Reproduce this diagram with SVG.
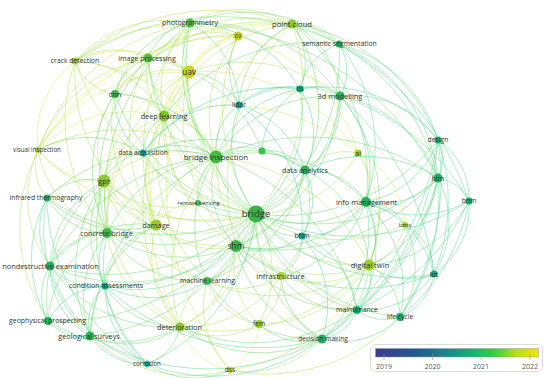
<svg xmlns="http://www.w3.org/2000/svg" width="550" height="378" viewBox="0 0 550 378">
<defs>
<linearGradient id="yr" x1="0" y1="0" x2="1" y2="0">
<stop offset="0" stop-color="#3b3b8e"/>
<stop offset="0.25" stop-color="#22598c"/>
<stop offset="0.45" stop-color="#1a8a8a"/>
<stop offset="0.62" stop-color="#12bb6a"/>
<stop offset="0.72" stop-color="#2fd040"/>
<stop offset="0.86" stop-color="#b5dc1a"/>
<stop offset="1" stop-color="#f5e500"/>
</linearGradient>
</defs>
<style>
.e path{fill:none;stroke-width:0.9;stroke-opacity:0.5}
.ey path{stroke:#d4e83e}
.eyg path{stroke:#aee04a}
.eg path{stroke:#62d862}
.egt path{stroke:#48d48c}
.et path{stroke:#3ccfaa}
text{font-family:"Open Sans","DejaVu Sans",sans-serif;fill:#333;text-anchor:middle}
.lg text{fill:#555;font-size:7px}
</style>
<rect width="550" height="378" fill="#fff"/>
<g id="connectors" class="e">
<g class="ey">
<path d="M189 72A60 60 0 0 1 238 36"/>
<path d="M75 61A115 115 0 0 1 189 72"/>
<path d="M164 116A50 50 0 0 1 189 72"/>
<path d="M189 72A115 115 0 0 1 292 24"/>
<path d="M156 225A155 155 0 0 1 189 72"/>
<path d="M180 327A255 255 0 0 1 189 72"/>
<path d="M189 72A185 185 0 0 1 358 153"/>
<path d="M38 150A170 170 0 0 1 189 72"/>
<path d="M104 181A140 140 0 0 1 189 72"/>
<path d="M164 116A110 110 0 0 1 238 36"/>
<path d="M75 61A165 165 0 0 1 238 36"/>
<path d="M38 150A95 95 0 0 1 75 61"/>
<path d="M104 181A75 75 0 0 1 38 150"/>
<path d="M230 370A65 65 0 0 1 180 327"/>
<path d="M358 153A115 115 0 0 1 369 265"/>
<path d="M358 153A85 85 0 0 1 405 225"/>
<path d="M164 116A200 200 0 0 1 358 153"/>
<path d="M238 36A170 170 0 0 1 358 153"/>
<path d="M259 324A55 55 0 0 1 230 370"/>
<path d="M230 370A300 300 0 0 1 189 72"/>
<path d="M369 265A175 175 0 0 1 230 370"/>
<path d="M38 150A230 230 0 0 1 238 36"/>
<path d="M38 150A130 130 0 0 1 164 116"/>
<path d="M38 150A285 285 0 0 1 292 24"/>
</g>
<g class="eyg">
<path d="M256 214A160 160 0 0 1 189 72"/>
<path d="M292 24A190 190 0 0 1 256 214"/>
<path d="M256 214A135 135 0 0 1 164 116"/>
<path d="M256 214A230 230 0 0 1 38 150"/>
<path d="M256 214A155 155 0 0 1 104 181"/>
<path d="M256 214A100 100 0 0 1 156 225"/>
<path d="M369 265A125 125 0 0 1 256 214"/>
<path d="M281 276A65 65 0 0 1 256 214"/>
<path d="M256 214A135 135 0 0 1 180 327"/>
<path d="M256 214A110 110 0 0 1 259 324"/>
<path d="M256 214A180 180 0 0 1 238 36"/>
<path d="M256 214A235 235 0 0 1 75 61"/>
<path d="M358 153A120 120 0 0 1 256 214"/>
<path d="M405 225A150 150 0 0 1 256 214"/>
<path d="M216 157A90 90 0 0 1 189 72"/>
<path d="M216 157A125 125 0 0 1 238 36"/>
<path d="M216 157A155 155 0 0 1 292 24"/>
<path d="M164 116A65 65 0 0 1 216 157"/>
<path d="M104 181A115 115 0 0 1 216 157"/>
<path d="M156 225A90 90 0 0 1 216 157"/>
<path d="M216 157A185 185 0 0 1 369 265"/>
<path d="M38 150A180 180 0 0 1 216 157"/>
<path d="M75 61A170 170 0 0 1 216 157"/>
<path d="M180 327A175 175 0 0 1 216 157"/>
<path d="M281 276A135 135 0 0 1 216 157"/>
<path d="M236 246A180 180 0 0 1 189 72"/>
<path d="M236 246A150 150 0 0 1 164 116"/>
<path d="M236 246A85 85 0 0 1 156 225"/>
<path d="M369 265A135 135 0 0 1 236 246"/>
<path d="M281 276A55 55 0 0 1 236 246"/>
<path d="M236 246A145 145 0 0 1 104 181"/>
<path d="M259 324A80 80 0 0 1 236 246"/>
<path d="M236 246A100 100 0 0 1 180 327"/>
<path d="M236 246A230 230 0 0 1 292 24"/>
<path d="M189 72A50 50 0 0 1 190 23"/>
<path d="M148 58A45 45 0 0 1 189 72"/>
<path d="M115 94A75 75 0 0 1 189 72"/>
<path d="M107 233A180 180 0 0 1 189 72"/>
<path d="M189 72A155 155 0 0 1 340 96"/>
<path d="M190 23A100 100 0 0 1 292 24"/>
<path d="M164 116A95 95 0 0 1 190 23"/>
<path d="M75 61A120 120 0 0 1 190 23"/>
<path d="M156 225A205 205 0 0 1 190 23"/>
<path d="M164 116A160 160 0 0 1 292 24"/>
<path d="M148 58A150 150 0 0 1 292 24"/>
<path d="M115 94A190 190 0 0 1 292 24"/>
<path d="M115 94A55 55 0 0 1 164 116"/>
<path d="M164 116A60 60 0 0 1 148 58"/>
<path d="M75 61A105 105 0 0 1 164 116"/>
<path d="M156 225A110 110 0 0 1 164 116"/>
<path d="M107 233A130 130 0 0 1 164 116"/>
<path d="M207 281A170 170 0 0 1 164 116"/>
<path d="M104 181A90 90 0 0 1 164 116"/>
<path d="M180 327A210 210 0 0 1 164 116"/>
<path d="M75 61A75 75 0 0 1 148 58"/>
<path d="M148 58A95 95 0 0 1 238 36"/>
<path d="M38 150A145 145 0 0 1 148 58"/>
<path d="M156 225A165 165 0 0 1 148 58"/>
<path d="M115 94A50 50 0 0 1 75 61"/>
<path d="M107 233A175 175 0 0 1 75 61"/>
<path d="M156 225A185 185 0 0 1 75 61"/>
<path d="M156 225A135 135 0 0 1 115 94"/>
<path d="M104 181A90 90 0 0 1 115 94"/>
<path d="M115 94A135 135 0 0 1 238 36"/>
<path d="M107 233A50 50 0 0 1 104 181"/>
<path d="M156 225A70 70 0 0 1 104 181"/>
<path d="M207 281A145 145 0 0 1 104 181"/>
<path d="M180 327A165 165 0 0 1 104 181"/>
<path d="M198 203A95 95 0 0 1 104 181"/>
<path d="M47 198A50 50 0 0 1 38 150"/>
<path d="M50 266A115 115 0 0 1 38 150"/>
<path d="M156 225A50 50 0 0 1 107 233"/>
<path d="M180 327A120 120 0 0 1 107 233"/>
<path d="M107 233A110 110 0 0 1 38 150"/>
<path d="M180 327A105 105 0 0 1 156 225"/>
<path d="M207 281A75 75 0 0 1 156 225"/>
<path d="M156 225A50 50 0 0 1 198 203"/>
<path d="M180 327A55 55 0 0 1 207 281"/>
<path d="M259 324A80 80 0 0 1 180 327"/>
<path d="M369 265A200 200 0 0 1 180 327"/>
<path d="M281 276A115 115 0 0 1 180 327"/>
<path d="M281 276A75 75 0 0 1 207 281"/>
<path d="M369 265A160 160 0 0 1 207 281"/>
<path d="M259 324A65 65 0 0 1 207 281"/>
<path d="M369 265A90 90 0 0 1 281 276"/>
<path d="M405 225A55 55 0 0 1 369 265"/>
<path d="M369 265A125 125 0 0 1 259 324"/>
<path d="M358 153A50 50 0 0 1 366 202"/>
<path d="M305 170A55 55 0 0 1 358 153"/>
<path d="M281 276A55 55 0 0 1 259 324"/>
<path d="M230 370A90 90 0 0 1 207 281"/>
<path d="M198 203A95 95 0 0 1 164 116"/>
<path d="M38 150A200 200 0 0 1 190 23"/>
<path d="M75 61A220 220 0 0 1 292 24"/>
<path d="M48 321A170 170 0 0 1 38 150"/>
<path d="M230 370A145 145 0 0 1 90 336"/>
<path d="M400 317A180 180 0 0 1 230 370"/>
<path d="M322 339A100 100 0 0 1 230 370"/>
</g>
<g class="eg">
<path d="M256 214A70 70 0 0 1 216 157"/>
<path d="M256 214A40 40 0 0 1 236 246"/>
<path d="M256 214A200 200 0 0 1 190 23"/>
<path d="M256 214A190 190 0 0 1 148 58"/>
<path d="M256 214A185 185 0 0 1 115 94"/>
<path d="M340 96A145 145 0 0 1 256 214"/>
<path d="M438 140A200 200 0 0 1 256 214"/>
<path d="M305 170A65 65 0 0 1 256 214"/>
<path d="M438 178A185 185 0 0 1 256 214"/>
<path d="M256 214A210 210 0 0 1 47 198"/>
<path d="M366 202A110 110 0 0 1 256 214"/>
<path d="M256 214A150 150 0 0 1 107 233"/>
<path d="M256 214A210 210 0 0 1 50 266"/>
<path d="M256 214A85 85 0 0 1 207 281"/>
<path d="M357 310A140 140 0 0 1 256 214"/>
<path d="M400 317A175 175 0 0 1 256 214"/>
<path d="M256 214A235 235 0 0 1 48 321"/>
<path d="M256 214A205 205 0 0 1 90 336"/>
<path d="M322 339A140 140 0 0 1 256 214"/>
<path d="M339 44A190 190 0 0 1 256 214"/>
<path d="M256 214A60 60 0 0 1 198 203"/>
<path d="M216 157A135 135 0 0 1 190 23"/>
<path d="M216 157A120 120 0 0 1 148 58"/>
<path d="M115 94A120 120 0 0 1 216 157"/>
<path d="M216 157A140 140 0 0 1 340 96"/>
<path d="M216 157A90 90 0 0 1 305 170"/>
<path d="M47 198A175 175 0 0 1 216 157"/>
<path d="M107 233A135 135 0 0 1 216 157"/>
<path d="M50 266A200 200 0 0 1 216 157"/>
<path d="M236 246A90 90 0 0 1 216 157"/>
<path d="M216 157A155 155 0 0 1 366 202"/>
<path d="M216 157A225 225 0 0 1 438 178"/>
<path d="M207 281A125 125 0 0 1 216 157"/>
<path d="M216 157A210 210 0 0 1 357 310"/>
<path d="M90 336A220 220 0 0 1 216 157"/>
<path d="M366 202A135 135 0 0 1 236 246"/>
<path d="M236 246A45 45 0 0 1 207 281"/>
<path d="M305 170A105 105 0 0 1 236 246"/>
<path d="M236 246A130 130 0 0 1 107 233"/>
<path d="M236 246A185 185 0 0 1 50 266"/>
<path d="M322 339A125 125 0 0 1 236 246"/>
<path d="M357 310A135 135 0 0 1 236 246"/>
<path d="M438 178A215 215 0 0 1 236 246"/>
<path d="M340 96A180 180 0 0 1 236 246"/>
<path d="M148 58A55 55 0 0 1 190 23"/>
<path d="M190 23A165 165 0 0 1 340 96"/>
<path d="M115 94A105 105 0 0 1 190 23"/>
<path d="M190 23A150 150 0 0 1 339 44"/>
<path d="M107 233A225 225 0 0 1 190 23"/>
<path d="M190 23A290 290 0 0 1 438 178"/>
<path d="M292 24A50 50 0 0 1 339 44"/>
<path d="M292 24A65 65 0 0 1 300 89"/>
<path d="M292 24A85 85 0 0 1 340 96"/>
<path d="M239 105A95 95 0 0 1 292 24"/>
<path d="M292 24A210 210 0 0 1 438 178"/>
<path d="M292 24A185 185 0 0 1 438 140"/>
<path d="M292 24A145 145 0 0 1 305 170"/>
<path d="M164 116A190 190 0 0 1 339 44"/>
<path d="M143 153A45 45 0 0 1 164 116"/>
<path d="M115 94A50 50 0 0 1 148 58"/>
<path d="M107 233A180 180 0 0 1 148 58"/>
<path d="M107 233A140 140 0 0 1 115 94"/>
<path d="M47 198A60 60 0 0 1 104 181"/>
<path d="M50 266A100 100 0 0 1 104 181"/>
<path d="M48 321A150 150 0 0 1 104 181"/>
<path d="M90 336A155 155 0 0 1 104 181"/>
<path d="M105 286A105 105 0 0 1 104 181"/>
<path d="M104 181A50 50 0 0 1 143 153"/>
<path d="M147 364A190 190 0 0 1 104 181"/>
<path d="M107 233A70 70 0 0 1 47 198"/>
<path d="M156 225A110 110 0 0 1 47 198"/>
<path d="M50 266A65 65 0 0 1 107 233"/>
<path d="M50 266A115 115 0 0 1 156 225"/>
<path d="M180 327A145 145 0 0 1 50 266"/>
<path d="M90 336A105 105 0 0 1 107 233"/>
<path d="M48 321A105 105 0 0 1 107 233"/>
<path d="M207 281A110 110 0 0 1 107 233"/>
<path d="M105 286A80 80 0 0 1 156 225"/>
<path d="M90 336A130 130 0 0 1 156 225"/>
<path d="M180 327A90 90 0 0 1 90 336"/>
<path d="M180 327A85 85 0 0 1 105 286"/>
<path d="M180 327A50 50 0 0 1 147 364"/>
<path d="M230 370A85 85 0 0 1 147 364"/>
<path d="M322 339A140 140 0 0 1 180 327"/>
<path d="M357 310A180 180 0 0 1 180 327"/>
<path d="M305 170A150 150 0 0 1 207 281"/>
<path d="M322 339A130 130 0 0 1 207 281"/>
<path d="M366 202A65 65 0 0 1 369 265"/>
<path d="M438 178A110 110 0 0 1 369 265"/>
<path d="M434 274A65 65 0 0 1 369 265"/>
<path d="M369 265A45 45 0 0 1 357 310"/>
<path d="M369 265A60 60 0 0 1 400 317"/>
<path d="M369 265A75 75 0 0 1 302 236"/>
<path d="M369 265A90 90 0 0 1 322 339"/>
<path d="M305 170A115 115 0 0 1 369 265"/>
<path d="M469 201A120 120 0 0 1 369 265"/>
<path d="M340 96A170 170 0 0 1 369 265"/>
<path d="M366 202A115 115 0 0 1 281 276"/>
<path d="M366 202A45 45 0 0 1 405 225"/>
<path d="M322 339A75 75 0 0 1 281 276"/>
<path d="M305 170A110 110 0 0 1 281 276"/>
<path d="M262 151A45 45 0 0 1 305 170"/>
<path d="M189 72A60 60 0 0 1 239 105"/>
<path d="M239 105A70 70 0 0 1 238 36"/>
<path d="M38 150A105 105 0 0 1 143 153"/>
<path d="M405 225A55 55 0 0 1 434 274"/>
<path d="M405 225A90 90 0 0 1 400 317"/>
<path d="M302 236A45 45 0 0 1 281 276"/>
<path d="M357 310A85 85 0 0 1 281 276"/>
<path d="M322 339A65 65 0 0 1 259 324"/>
<path d="M198 203A50 50 0 0 1 216 157"/>
<path d="M216 157A45 45 0 0 1 262 151"/>
<path d="M148 58A145 145 0 0 1 262 151"/>
<path d="M75 61A265 265 0 0 1 339 44"/>
<path d="M292 24A195 195 0 0 1 366 202"/>
<path d="M180 327A130 130 0 0 1 48 321"/>
</g>
<g class="egt">
<path d="M300 89A130 130 0 0 1 256 214"/>
<path d="M256 214A130 130 0 0 1 143 153"/>
<path d="M469 201A215 215 0 0 1 256 214"/>
<path d="M302 236A50 50 0 0 1 256 214"/>
<path d="M434 274A190 190 0 0 1 256 214"/>
<path d="M256 214A170 170 0 0 1 105 286"/>
<path d="M256 214A185 185 0 0 1 147 364"/>
<path d="M256 214A110 110 0 0 1 239 105"/>
<path d="M216 157A55 55 0 0 1 239 105"/>
<path d="M216 157A110 110 0 0 1 300 89"/>
<path d="M143 153A75 75 0 0 1 216 157"/>
<path d="M302 236A65 65 0 0 1 236 246"/>
<path d="M434 274A200 200 0 0 1 236 246"/>
<path d="M236 246A135 135 0 0 1 105 286"/>
<path d="M190 23A130 130 0 0 1 300 89"/>
<path d="M190 23A95 95 0 0 1 239 105"/>
<path d="M339 44A50 50 0 0 1 340 96"/>
<path d="M339 44A165 165 0 0 1 438 178"/>
<path d="M300 89A60 60 0 0 1 339 44"/>
<path d="M339 44A140 140 0 0 1 438 140"/>
<path d="M340 96A130 130 0 0 1 438 178"/>
<path d="M340 96A105 105 0 0 1 438 140"/>
<path d="M300 89A40 40 0 0 1 340 96"/>
<path d="M340 96A80 80 0 0 1 305 170"/>
<path d="M340 96A110 110 0 0 1 366 202"/>
<path d="M239 105A100 100 0 0 1 340 96"/>
<path d="M340 96A230 230 0 0 1 469 201"/>
<path d="M50 266A70 70 0 0 1 47 198"/>
<path d="M48 321A125 125 0 0 1 47 198"/>
<path d="M48 321A55 55 0 0 1 50 266"/>
<path d="M90 336A80 80 0 0 1 50 266"/>
<path d="M105 286A60 60 0 0 1 50 266"/>
<path d="M147 364A140 140 0 0 1 50 266"/>
<path d="M105 286A55 55 0 0 1 107 233"/>
<path d="M147 364A135 135 0 0 1 107 233"/>
<path d="M90 336A45 45 0 0 1 48 321"/>
<path d="M90 336A50 50 0 0 1 105 286"/>
<path d="M147 364A65 65 0 0 1 90 336"/>
<path d="M48 321A65 65 0 0 1 105 286"/>
<path d="M322 339A225 225 0 0 1 105 286"/>
<path d="M207 281A100 100 0 0 1 105 286"/>
<path d="M438 178A75 75 0 0 1 366 202"/>
<path d="M469 201A105 105 0 0 1 366 202"/>
<path d="M438 140A95 95 0 0 1 366 202"/>
<path d="M305 170A70 70 0 0 1 366 202"/>
<path d="M366 202A70 70 0 0 1 302 236"/>
<path d="M366 202A110 110 0 0 1 357 310"/>
<path d="M366 202A120 120 0 0 1 400 317"/>
<path d="M366 202A100 100 0 0 1 434 274"/>
<path d="M366 202A145 145 0 0 1 322 339"/>
<path d="M438 178A40 40 0 0 1 469 201"/>
<path d="M438 140A40 40 0 0 1 438 178"/>
<path d="M438 178A95 95 0 0 1 434 274"/>
<path d="M438 178A200 200 0 0 1 400 317"/>
<path d="M438 178A220 220 0 0 1 357 310"/>
<path d="M305 170A135 135 0 0 1 438 178"/>
<path d="M438 178A280 280 0 0 1 322 339"/>
<path d="M438 140A70 70 0 0 1 469 201"/>
<path d="M438 140A250 250 0 0 1 400 317"/>
<path d="M438 140A260 260 0 0 1 357 310"/>
<path d="M438 140A190 190 0 0 1 434 274"/>
<path d="M438 140A320 320 0 0 1 322 339"/>
<path d="M469 201A190 190 0 0 1 400 317"/>
<path d="M469 201A220 220 0 0 1 357 310"/>
<path d="M400 317A45 45 0 0 1 357 310"/>
<path d="M357 310A45 45 0 0 1 322 339"/>
<path d="M400 317A80 80 0 0 1 322 339"/>
<path d="M434 274A55 55 0 0 1 400 317"/>
<path d="M434 274A85 85 0 0 1 357 310"/>
<path d="M302 236A105 105 0 0 1 322 339"/>
<path d="M302 236A90 90 0 0 1 357 310"/>
<path d="M305 170A65 65 0 0 1 302 236"/>
<path d="M300 89A80 80 0 0 1 305 170"/>
<path d="M239 105A95 95 0 0 1 305 170"/>
<path d="M143 153A165 165 0 0 1 305 170"/>
<path d="M262 151A75 75 0 0 1 300 89"/>
<path d="M300 89A145 145 0 0 1 438 140"/>
<path d="M143 153A65 65 0 0 1 115 94"/>
<path d="M90 336A145 145 0 0 1 47 198"/>
<path d="M147 364A190 190 0 0 1 47 198"/>
<path d="M340 96A280 280 0 0 1 434 274"/>
<path d="M339 44A280 280 0 0 1 469 201"/>
<path d="M339 44A165 165 0 0 1 366 202"/>
<path d="M322 339A230 230 0 0 1 90 336"/>
<path d="M322 339A180 180 0 0 1 147 364"/>
</g>
<g class="et">
<path d="M147 364A90 90 0 0 1 105 286"/>
<path d="M469 201A80 80 0 0 1 434 274"/>
<path d="M239 105A65 65 0 0 1 300 89"/>
<path d="M143 153A105 105 0 0 1 239 105"/>
<path d="M239 105A145 145 0 0 1 302 236"/>
<path d="M143 153A170 170 0 0 1 300 89"/>
</g>
</g>
<g id="nodes">
<g id="n-photogrammetry"><circle cx="190" cy="23" r="4.5" fill="#4dbd3a"/><text x="190" y="25.4" font-size="7">photogrammetry</text></g>
<g id="n-cv"><circle cx="238" cy="36" r="4.5" fill="#c5d21e"/><text x="238" y="38.4" font-size="6.8">cv</text></g>
<g id="n-point-cloud"><circle cx="292" cy="24" r="4.5" fill="#8cc92c"/><text x="292" y="26.6" font-size="7.6">point cloud</text></g>
<g id="n-crack-detection"><circle cx="75" cy="61" r="3.5" fill="#a6cf2e"/><text x="75" y="63.4" font-size="6.8">crack detection</text></g>
<g id="n-image-processing"><circle cx="148" cy="58" r="4.5" fill="#50be3a"/><text x="147" y="60.5" font-size="7.1">image processing</text></g>
<g id="n-uav"><circle cx="189" cy="72" r="6.5" fill="#c8d41c"/><text x="189" y="75" font-size="8.4">uav</text></g>
<g id="n-semantic-segmentation"><circle cx="339" cy="44" r="3.5" fill="#20b062"/><text x="339.5" y="46.4" font-size="6.85">semantic segmentation</text></g>
<g id="n-cnn"><circle cx="115" cy="94" r="4" fill="#3db649"/><text x="115" y="96.6" font-size="7.4">cnn</text></g>
<g id="n-tls"><circle cx="300" cy="89" r="3.5" fill="#12a88a"/><text x="300" y="91.4" font-size="7">tls</text></g>
<g id="n-3d-modelling"><circle cx="340" cy="96" r="4.5" fill="#26b358"/><text x="340" y="98.6" font-size="7.4">3d modelling</text></g>
<g id="n-lidar"><circle cx="239" cy="105" r="3.5" fill="#0fa58c"/><text x="239" y="107.4" font-size="6.8">lidar</text></g>
<g id="n-deep-learning"><circle cx="164" cy="116" r="5.5" fill="#7cc532"/><text x="164" y="118.6" font-size="7.3">deep learning</text></g>
<g id="n-design"><circle cx="438" cy="140" r="3.5" fill="#18ad70"/><text x="438" y="142.4" font-size="6.8">design</text></g>
<g id="n-visual-inspection"><circle cx="38" cy="150" r="3" fill="#bad22e"/><text x="37" y="152.2" font-size="6.2">visual inspection</text></g>
<g id="n-data-acquisition"><circle cx="143" cy="153" r="3.5" fill="#0ea590"/><text x="143" y="155.4" font-size="6.7">data acquisition</text></g>
<g id="n-bridge-inspection"><circle cx="216" cy="157" r="6.5" fill="#44b93e"/><text x="216" y="159.8" font-size="8">bridge inspection</text></g>
<g id="n-unlabeled"><circle cx="262" cy="151" r="3.5" fill="#3dbd52"/></g>
<g id="n-ai"><circle cx="358" cy="153" r="3.5" fill="#b4d020"/><text x="358" y="155.6" font-size="7.5">ai</text></g>
<g id="n-data-analytics"><circle cx="305" cy="170" r="4.5" fill="#27b455"/><text x="305" y="172.5" font-size="7.2">data analytics</text></g>
<g id="n-bim"><circle cx="438" cy="178" r="4.5" fill="#1cb064"/><text x="438" y="180.5" font-size="7">bim</text></g>
<g id="n-gpr"><circle cx="104" cy="181" r="6.5" fill="#8cc72e"/><text x="104" y="183.8" font-size="7.8">gpr</text></g>
<g id="n-infrared-thermography"><circle cx="47" cy="198" r="3.5" fill="#22b260"/><text x="46" y="200.4" font-size="6.8">infrared thermography</text></g>
<g id="n-remote-sensing"><circle cx="198" cy="203" r="3" fill="#3ebb55"/><text x="198.5" y="205.1" font-size="5.9">remote sensing</text></g>
<g id="n-bridge"><circle cx="256" cy="214" r="8.5" fill="#36b446"/><text x="256" y="217.4" font-size="9.5">bridge</text></g>
<g id="n-info-management"><circle cx="366" cy="202" r="5" fill="#1db25e"/><text x="366.5" y="204.6" font-size="7.4">info management</text></g>
<g id="n-brim"><circle cx="469" cy="201" r="3.5" fill="#10a888"/><text x="469" y="203.4" font-size="6.6">brim</text></g>
<g id="n-damage"><circle cx="156" cy="225" r="5.5" fill="#9bcb2a"/><text x="156" y="227.6" font-size="7.3">damage</text></g>
<g id="n-concrete-bridge"><circle cx="107" cy="233" r="5" fill="#3fba44"/><text x="106.5" y="235.5" font-size="7.2">concrete bridge</text></g>
<g id="n-shm"><circle cx="236" cy="246" r="6" fill="#35b54c"/><text x="236" y="248.9" font-size="8.3">shm</text></g>
<g id="n-bhm"><circle cx="302" cy="236" r="3.5" fill="#10a982"/><text x="302" y="238.4" font-size="7">bhm</text></g>
<g id="n-bms"><circle cx="405" cy="225" r="3" fill="#a3cf35"/><text x="405" y="227.1" font-size="6.1">bms</text></g>
<g id="n-nondestructive-examination"><circle cx="50" cy="266" r="4.5" fill="#20b160"/><text x="50.5" y="268.6" font-size="7.4">nondestructive examination</text></g>
<g id="n-digital-twin"><circle cx="369" cy="265" r="5.5" fill="#9ccd28"/><text x="370" y="267.6" font-size="7.6">digital twin</text></g>
<g id="n-infrastructure"><circle cx="281" cy="276" r="4" fill="#a5d02e"/><text x="280.5" y="278.6" font-size="7.5">infrastructure</text></g>
<g id="n-iot"><circle cx="434" cy="274" r="3.5" fill="#10a884"/><text x="434" y="276.5" font-size="7.2">iot</text></g>
<g id="n-condition-assessments"><circle cx="105" cy="286" r="3.5" fill="#12a78c"/><text x="106" y="288.4" font-size="7">condition assessments</text></g>
<g id="n-machine-learning"><circle cx="207" cy="281" r="4" fill="#3fbb58"/><text x="207.5" y="283.4" font-size="6.8">machine learning</text></g>
<g id="n-maintenance"><circle cx="357" cy="310" r="4" fill="#1aab6e"/><text x="357" y="312.4" font-size="6.9">maintenance</text></g>
<g id="n-life-cycle"><circle cx="400" cy="317" r="4" fill="#1bad68"/><text x="400" y="319.4" font-size="6.8">life cycle</text></g>
<g id="n-geophysical-prospecting"><circle cx="48" cy="321" r="4" fill="#20b35c"/><text x="47.5" y="323.4" font-size="6.85">geophysical prospecting</text></g>
<g id="n-deterioration"><circle cx="180" cy="327" r="4.5" fill="#8ec92c"/><text x="179.5" y="329.5" font-size="7.3">deterioration</text></g>
<g id="n-fem"><circle cx="259" cy="324" r="4" fill="#95cb2a"/><text x="259" y="326.4" font-size="6.7">fem</text></g>
<g id="n-geological-surveys"><circle cx="90" cy="336" r="4.5" fill="#26b456"/><text x="89" y="338.5" font-size="7.3">geological surveys</text></g>
<g id="n-decision-making"><circle cx="322" cy="339" r="4.5" fill="#1daf64"/><text x="323" y="341.3" font-size="6.6">decision making</text></g>
<g id="n-corrosion"><circle cx="147" cy="364" r="3" fill="#12a392"/><text x="147" y="366.2" font-size="6.3">corrosion</text></g>
<g id="n-dss"><circle cx="230" cy="370" r="3" fill="#c8d52e"/><text x="230" y="372.3" font-size="6.6">dss</text></g>
</g>
<g id="legend" class="lg">
<rect x="370.5" y="344.5" width="172" height="27" rx="5" fill="#fff" stroke="#dcdcdc"/>
<rect x="375.5" y="348.5" width="163" height="8.5" fill="url(#yr)" stroke="#999" stroke-width="0.5"/>
<path d="M384 354V360M432.5 354V360M481 354V360M530 354V360" stroke="#999" stroke-width="0.6"/>
<text x="384" y="368.5">2019</text>
<text x="432.5" y="368.5">2020</text>
<text x="481" y="368.5">2021</text>
<text x="530" y="368.5">2022</text>
</g>
</svg>
